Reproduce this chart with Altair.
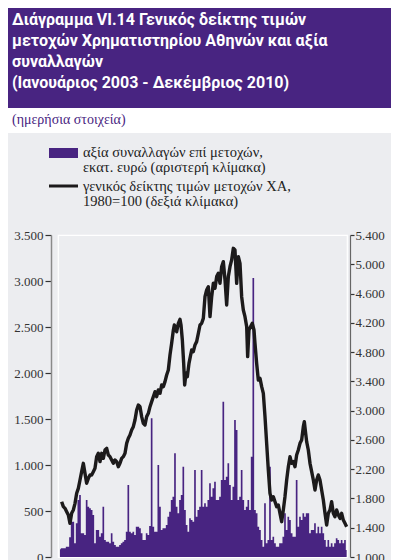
import altair as alt
import numpy as np
import pandas as pd

# ---------------- data ----------------
title_lines = [
    "Διάγραμμα VI.14  Γενικός δείκτης τιμών",
    "μετοχών Χρηματιστηρίου Αθηνών και αξία",
    "συναλλαγών",
    "(Ιανουάριος 2003 - Δεκέμβριος 2010)",
]
subtitle = "(ημερήσια στοιχεία)"
legend_bar = ["αξία συναλλαγών επί μετοχών,", "εκατ. ευρώ (αριστερή κλίμακα)"]
legend_line = ["γενικός δείκτης τιμών μετοχών ΧΑ,", "1980=100 (δεξιά κλίμακα)"]

left_ticks = [0, 500, 1000, 1500, 2000, 2500, 3000, 3500]
right_ticks = [1000, 1400, 1800, 2200, 2600, 3000, 3400, 3800, 4200, 4600, 5000, 5400]
years = [2003, 2004, 2005, 2006, 2007, 2008, 2009, 2010, 2011]

# General index of ATHEX prices, 1980=100 (right scale); time in fractional years
line_time = [
    2003.101, 2003.148, 2003.194, 2003.240, 2003.286, 2003.332, 2003.378, 2003.424, 2003.471, 2003.517,
    2003.563, 2003.609, 2003.655, 2003.701, 2003.747, 2003.793, 2003.840, 2003.886, 2003.932, 2003.978,
    2004.024, 2004.070, 2004.116, 2004.163, 2004.209, 2004.255, 2004.301, 2004.347, 2004.393, 2004.439,
    2004.485, 2004.532, 2004.578, 2004.624, 2004.670, 2004.716, 2004.762, 2004.808, 2004.855, 2004.901,
    2004.947, 2004.993, 2005.039, 2005.085, 2005.131, 2005.178, 2005.224, 2005.270, 2005.316, 2005.362,
    2005.408, 2005.454, 2005.501, 2005.547, 2005.593,
    2005.685, 2005.731, 2005.777, 2005.824, 2005.870, 2005.916, 2005.962, 2006.008, 2006.054, 2006.100,
    2006.146, 2006.193, 2006.220, 2006.257, 2006.285, 2006.331, 2006.377, 2006.405, 2006.442, 2006.479,
    2006.506, 2006.543, 2006.580, 2006.626, 2006.663, 2006.700, 2006.746, 2006.792, 2006.838, 2006.885,
    2006.931, 2006.977, 2007.023, 2007.069, 2007.115, 2007.161, 2007.208, 2007.254, 2007.300, 2007.346,
    2007.392, 2007.438, 2007.484, 2007.530, 2007.577, 2007.623, 2007.669, 2007.715, 2007.761, 2007.807,
    2007.853, 2007.899, 2007.946, 2007.992, 2008.038, 2008.084, 2008.130, 2008.176, 2008.223, 2008.250,
    2008.287, 2008.333, 2008.379, 2008.425, 2008.453, 2008.499, 2008.545, 2008.592, 2008.638, 2008.684,
    2008.730, 2008.776, 2008.822, 2008.868, 2008.914, 2008.961, 2009.007, 2009.053, 2009.099, 2009.145,
    2009.191, 2009.237, 2009.283, 2009.330, 2009.376, 2009.422, 2009.468, 2009.514, 2009.560, 2009.606,
    2009.652, 2009.699, 2009.745, 2009.791, 2009.819, 2009.856, 2009.883, 2009.929, 2009.976, 2010.022,
    2010.068, 2010.114, 2010.160, 2010.206, 2010.252, 2010.298, 2010.345, 2010.391, 2010.437, 2010.483,
    2010.529, 2010.575, 2010.621, 2010.667, 2010.714, 2010.760, 2010.806, 2010.852, 2010.898, 2010.944,
    2010.990,
]
line_values = [
    1756, 1688, 1665, 1619, 1574, 1460, 1597, 1642, 1733, 1870,
    1938, 2052, 2166, 2280, 2143, 2007, 2075, 2121, 2121, 2166,
    2212, 2371, 2417, 2303, 2417, 2348, 2462, 2485, 2394, 2371,
    2326, 2280, 2326, 2303, 2234, 2280, 2348, 2371, 2417, 2553,
    2622, 2667, 2735, 2781, 2872, 3009, 3077, 3054, 2918, 2827,
    2804, 2918, 2963, 3054, 3123,
    3259, 3191, 3282, 3237, 3350, 3328, 3396, 3487, 3555, 3760,
    3920, 4102, 4170, 4102, 4079, 4193, 4248, 4170, 3965, 3646,
    3350, 3510, 3464, 3646, 3738, 3829, 3806, 3897, 3943, 4056,
    4170, 4193, 4261, 4557, 4649, 4694, 4284, 4557, 4740, 4671,
    4831, 4876, 4740, 4967, 5036, 4785, 4444, 4831, 4967, 5059,
    5218, 5195, 4740, 5104, 5013, 4557, 4375, 4284, 4148, 3738,
    4102, 4148, 4193, 4102, 3920, 3646, 3419, 3441, 3328, 3237,
    2918, 2553, 2189, 1870, 1779, 1824, 1756, 1688, 1711, 1597,
    1483, 1642, 1824, 2052, 2234, 2371, 2280, 2303, 2234, 2394,
    2462, 2553, 2599, 2781, 2849, 2690, 2576, 2462, 2280, 2166,
    2052, 1916, 2052, 2121, 2052, 1916, 1779, 1597, 1437, 1597,
    1642, 1756, 1597, 1551, 1642, 1574, 1528, 1597, 1505, 1460,
    1414,
]

# Value of transactions in shares, million euro (left scale), read every ~17 days
bar_values = [
    83, 94, 94, 94, 112, 112, 214, 384, 384, 149, 366, 620, 674, 257, 257, 239, 620, 547, 529, 511,
    456, 149, 293, 293, 221, 257, 547, 185, 167, 167, 149, 257, 167, 130, 112, 112, 130, 149, 167, 185,
    275, 783, 275, 257, 275, 239, 330, 330, 312, 257, 185, 185, 257, 239, 337, 1507, 330, 275, 275, 1000,
    547, 293, 312, 312, 348, 438, 493, 620, 656, 1127, 547, 475, 620, 674, 982, 511, 348, 275, 420, 402,
    384, 946, 438, 511, 547, 946, 547, 583, 547, 620, 801, 656, 746, 819, 620, 620, 656, 837, 1688, 837,
    873, 1018, 783, 620, 764, 1489, 1380, 620, 656, 946, 620, 511, 547, 620, 511, 1091, 3032, 511, 475, 330,
    293, 185, 112, 583, 149, 185, 982, 185, 221, 149, 112, 112, 149, 149, 221, 475, 293, 438, 402, 257,
    221, 221, 837, 330, 438, 402, 475, 438, 475, 475, 257, 293, 293, 366, 257, 330, 257, 330, 257, 185,
    112, 185, 112, 149, 112, 149, 203, 185, 149, 185, 149, 185, 76,
]
bar_time = np.linspace(2003.055, 2010.990, len(bar_values))

bars_df = pd.DataFrame({"t": bar_time, "value": bar_values})
line_df = pd.DataFrame({"t": line_time, "value": line_values})

# ---------------- style ----------------
PURPLE = "#482481"
BG = "#ECEDF0"
SERIF = "Liberation Serif"
TITLE_FONT = "Roboto"

x_scale = alt.Scale(domain=[2003, 2011], nice=False, zero=False)
x_axis = alt.Axis(values=years, grid=True, gridColor="white", gridWidth=1.2, labels=False,
                  ticks=True, tickColor="#555", tickSize=4, domain=False, title=None)

fmt = "replace(format(datum.value, ','), ',', '.')"

bars = alt.Chart(bars_df).mark_area(color=PURPLE, interpolate="step").encode(
    x=alt.X("t:Q", scale=x_scale, axis=x_axis),
    y=alt.Y("value:Q", scale=alt.Scale(domain=[0, 3500], nice=False),
            axis=alt.Axis(values=left_ticks, labelExpr=fmt, orient="left", offset=7,
                          grid=False, title=None, domainColor="#8a8a8a", domainWidth=1.5,
                          tickColor="#333", tickSize=6, tickWidth=1.2, labelPadding=2,
                          labelFont=SERIF, labelFontSize=13, labelColor="#333")),
)

line = alt.Chart(line_df).mark_line(color="#1c1a1b", strokeWidth=3.4, strokeJoin="round").encode(
    x=alt.X("t:Q", scale=x_scale, axis=None),
    y=alt.Y("value:Q", scale=alt.Scale(domain=[1000, 5400], nice=False),
            axis=alt.Axis(values=right_ticks,
                          labelExpr="datum.value == 3800 ? '4.800' : " + fmt,
                          orient="right", offset=3, grid=False, title=None,
                          domainColor="#666", domainWidth=1.2, tickColor="#333", tickSize=4,
                          tickWidth=1.2, labelPadding=1, labelFont=SERIF, labelFontSize=13,
                          labelColor="#333")),
)

one = pd.DataFrame({"k": [0]})

band = alt.Chart(one).mark_rect(color=PURPLE).encode(
    x=alt.value(-50), x2=alt.value(333), y=alt.value(-227), y2=alt.value(-127))
white_band = alt.Chart(one).mark_rect(color="white").encode(
    x=alt.value(-50), x2=alt.value(333), y=alt.value(-127), y2=alt.value(-102))


def text_layer(txt, y, font, size, color, weight="normal", x=-46):
    return alt.Chart(pd.DataFrame({"t": [txt]})).mark_text(
        align="left", baseline="alphabetic", font=font, fontSize=size, color=color,
        fontWeight=weight).encode(x=alt.value(x), y=alt.value(y), text="t:N")


title_y = [-210, -189, -168, -147]
title_layers = [text_layer(t, y, TITLE_FONT, 16, "white", "bold")
                for t, y in zip(title_lines, title_y)]

sub = text_layer(subtitle, -111, SERIF, 14, PURPLE)

sw_bar = alt.Chart(one).mark_rect(color=PURPLE).encode(
    x=alt.value(-9), x2=alt.value(20), y=alt.value(-87), y2=alt.value(-77))
sw_line = alt.Chart(one).mark_rule(color="#1c1a1b", strokeWidth=3).encode(
    x=alt.value(-9), x2=alt.value(20), y=alt.value(-49))

legend_y = [-78, -63, -44, -29]
legend_layers = [text_layer(t, y, SERIF, 14.5, "#222", x=25)
                 for t, y in zip(legend_bar + legend_line, legend_y)]

chart = alt.layer(
    band, white_band, *title_layers, sub, sw_bar, sw_line, *legend_layers, bars, line
).resolve_scale(y="independent").properties(
    width=289, height=322,
    autosize=alt.AutoSizeParams(type="none"),
    padding={"left": 50, "top": 227, "right": 44, "bottom": 3},
).configure(background=BG).configure_view(stroke="white", strokeWidth=1.2)

chart.save("out.html", embed_options={"renderer": "svg", "actions": False})
